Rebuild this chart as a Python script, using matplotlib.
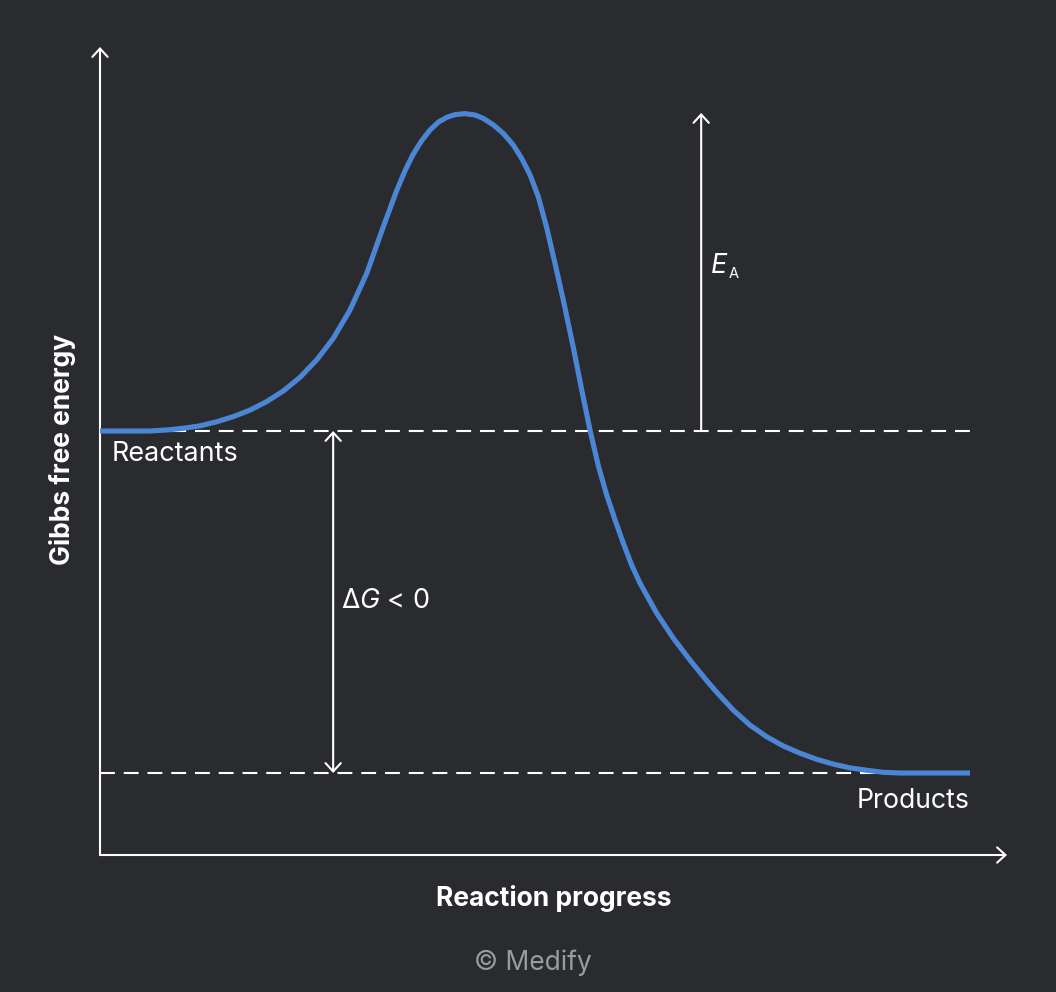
import matplotlib
matplotlib.use("Agg")
import matplotlib.pyplot as plt

# ---------------- data ----------------
progress = [0, 5.75, 7.67, 9.57, 11.49, 13.41, 15.32, 17.24, 19.16, 21.07,
            22.99, 24.91, 26.82, 28.74, 30.66, 32.56, 34.10, 35.06, 36.01,
            36.98, 37.93, 38.89, 39.85, 40.80, 41.95, 43.10, 44.06, 45.21,
            46.36, 47.51, 48.47, 49.43, 50.38, 51.34, 52.30, 53.25, 54.39,
            55.37, 56.32, 57.28, 58.24, 59.20, 60.15, 61.11, 62.07, 63.99,
            65.90, 67.82, 69.74, 70.89, 72.79, 74.71, 76.63, 78.54, 80.46,
            82.38, 84.29, 86.21, 88.13, 90.03, 91.95, 100]
energy = [100, 100, 100.3, 100.8, 101.5, 102.7, 104.2, 106.1, 108.6, 111.7,
          115.7, 120.8, 127.1, 135.4, 146.1, 159.7, 170.3, 176.1, 181.0,
          184.9, 188.0, 190.3, 191.7, 192.5, 192.8, 192.4, 191.4, 189.5,
          187.0, 183.6, 179.7, 174.9, 168.5, 159.5, 149.0, 138.3, 124.6,
          112.0, 100.3, 89.8, 81.3, 74.0, 67.2, 60.8, 55.5, 46.7,
          39.4, 33.0, 27.0, 23.6, 18.4, 14.0, 10.6, 7.9, 5.8,
          4.0, 2.6, 1.5, 0.8, 0.2, 0, 0]
reactant_level = 100
product_level = 0
peak_level = 193.0
x_end = 100
dg_x = 26.8          # position of the delta-G arrow
ea_x = 69.1          # position of the activation-energy arrow
labels = {"reactants": "Reactants", "products": "Products",
          "ylabel": "Gibbs free energy", "xlabel": "Reaction progress",
          "credit": "\u00a9 Medify"}

# ---------------- layout helpers ----------------
W, H = 1056, 992
X0_PX, PX_PER_X = 100, 8.7
Y0_PY, PX_PER_Y = 773, 3.42


def px2x(px):
    return (px - X0_PX) / PX_PER_X


def py2y(py):
    return (Y0_PY - py) / PX_PER_Y


BG = "#2a2b2e"
BLUE = "#4a86d4"
WHITE = "#ffffff"
FONT = ["Inter", "DejaVu Sans"]

plt.rcParams["font.family"] = FONT
plt.rcParams["mathtext.fontset"] = "custom"
plt.rcParams["mathtext.rm"] = "Inter"
plt.rcParams["mathtext.it"] = "Inter:italic"

fig = plt.figure(figsize=(W / 100, H / 100), dpi=100, facecolor=BG)
ax = fig.add_axes([0, 0, 1, 1])
ax.set_facecolor(BG)
ax.set_xlim(px2x(0), px2x(W))
ax.set_ylim(py2y(H), py2y(0))
ax.axis("off")

axis_y = py2y(855)
head = "->,head_length=0.6,head_width=0.55"

# axes with arrows
ax.annotate("", xy=(0, py2y(47)), xytext=(0, axis_y),
            arrowprops=dict(arrowstyle=head, color=WHITE, lw=1.5,
                            shrinkA=0, shrinkB=0, mutation_scale=10))
ax.annotate("", xy=(px2x(1007), axis_y), xytext=(0, axis_y),
            arrowprops=dict(arrowstyle=head, color=WHITE, lw=1.5,
                            shrinkA=0, shrinkB=0, mutation_scale=10))

# dashed reference levels
for lvl in (reactant_level, product_level):
    ax.plot([0, x_end], [lvl, lvl], color=WHITE, lw=1.5,
            linestyle=(0, (7.13, 4.27)), zorder=2)

# energy curve
ax.plot(progress, energy, color=BLUE, lw=3.7, solid_capstyle="butt",
        solid_joinstyle="round", zorder=3)

# delta G double arrow
ax.annotate("", xy=(dg_x, product_level), xytext=(dg_x, reactant_level),
            arrowprops=dict(arrowstyle="<->,head_length=0.6,head_width=0.55",
                            color=WHITE, lw=1.5, shrinkA=0, shrinkB=0,
                            mutation_scale=10))
# activation energy arrow
ax.annotate("", xy=(ea_x, peak_level), xytext=(ea_x, reactant_level),
            arrowprops=dict(arrowstyle=head, color=WHITE, lw=1.5,
                            shrinkA=0, shrinkB=0, mutation_scale=10))

# labels
ax.text(px2x(112), py2y(461), labels["reactants"], color=WHITE, fontsize=19.4,
        ha="left", va="baseline")
ax.text(px2x(970), py2y(808), labels["products"], color=WHITE, fontsize=19.2,
        ha="right", va="baseline")
ax.text(px2x(341), py2y(608), r"$\Delta\mathit{G}$ < 0", color=WHITE,
        fontsize=19.4, ha="left", va="baseline")
ax.text(px2x(710), py2y(273), r"$\mathit{E}$", color=WHITE, fontsize=19.4,
        ha="left", va="baseline")
ax.text(px2x(729), py2y(278), "A", color=WHITE, fontsize=10.5,
        ha="left", va="baseline")

ax.text(px2x(70), py2y(449), labels["ylabel"], color=WHITE, fontsize=19,
        fontweight="bold", rotation=90, rotation_mode="anchor",
        ha="center", va="baseline")
ax.text(px2x(554), py2y(906), labels["xlabel"], color=WHITE, fontsize=19,
        fontweight="bold", ha="center", va="baseline")
ax.text(px2x(533), py2y(970), labels["credit"], color="#9a9b9d", fontsize=19,
        ha="center", va="baseline")

fig.savefig("out.png", dpi=100, facecolor=BG)
